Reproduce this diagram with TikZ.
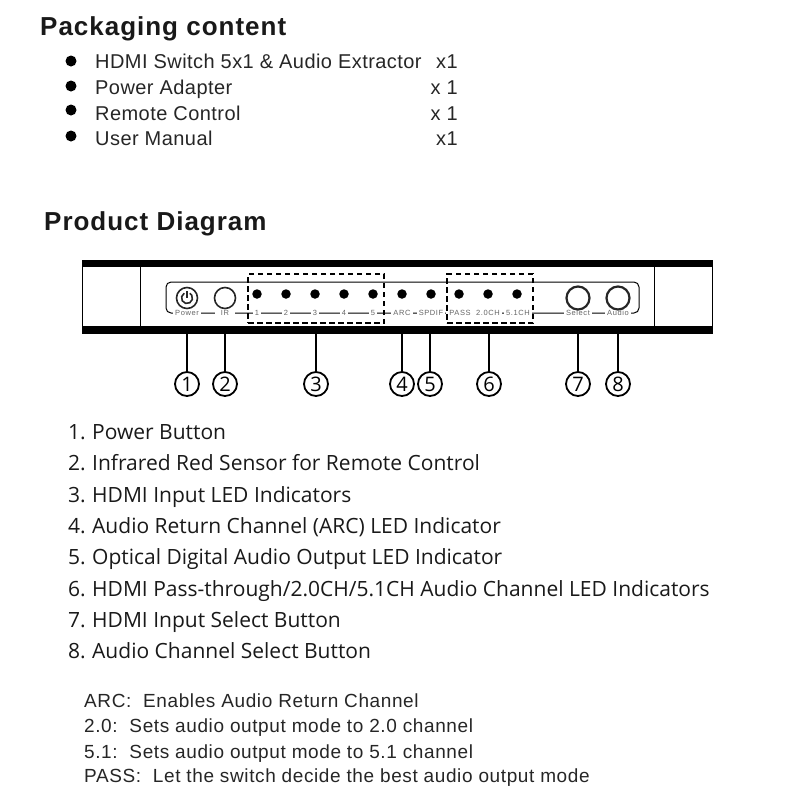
\documentclass[tikz,border=0pt]{standalone}
\usepackage{fontspec}
\setmainfont{Liberation Sans}
\newfontfamily\listfont{Open Sans}
\newfontfamily\headfont[LetterSpace=3.8,BoldFont={Liberation Sans Bold}]{Liberation Sans}
\newfontfamily\itemfont[LetterSpace=2.2]{Liberation Sans}
\newfontfamily\notefont[LetterSpace=3.2]{Liberation Sans}
\newfontfamily\labfont[LetterSpace=8]{Liberation Sans}
\usetikzlibrary{positioning,calc}

\begin{document}
\begin{tikzpicture}[x=1pt, y=-1pt,
  head/.style={anchor=base west, inner sep=0pt, font=\headfont\fontsize{26}{26}\selectfont\bfseries, text=black!90},
  item/.style={anchor=base west, inner sep=0pt, font=\itemfont\fontsize{20}{20}\selectfont, text=black!85},
  qty/.style={anchor=base east, inner sep=0pt, font=\itemfont\fontsize{20}{20}\selectfont, text=black!85},
  dotmark/.style={circle, fill=black, inner sep=0pt, minimum size=11pt},
  num/.style={anchor=base west, inner sep=0pt, font=\listfont\fontsize{21}{21}\selectfont, text=black!90},
  note/.style={anchor=base west, inner sep=0pt, font=\notefont\fontsize{19}{19}\selectfont, text=black!85},
  bar/.style={fill=black, inner sep=0pt, minimum height=7.5pt, minimum width=631pt},
  led/.style={circle, fill=black, inner sep=0pt, minimum size=9.5pt},
  btn/.style={circle, draw=black!85, line width=1.6pt, inner sep=0pt, minimum size=21pt},
  bigbtn/.style={circle, draw=black!85, line width=2.2pt, inner sep=0pt, minimum size=23pt},
  lab/.style={fill=white, inner sep=2pt, font=\labfont\fontsize{7.5}{7.5}\selectfont, text=black!60},
  group/.style={draw=black, line width=1.8pt, dash pattern=on 5.5pt off 3.5pt, inner sep=0pt},
  callout/.style={circle, draw=black, line width=1.8pt, fill=white, inner sep=0pt, minimum size=24pt, font=\listfont\fontsize{20}{20}\selectfont},
  leader/.style={line width=1.8pt}]
\useasboundingbox (0,0) rectangle (808,807);
% packaging list
\node[head] (packing) at (40,35) {Packaging content};
\node[dotmark] (d1) at (71,61) {};
\node[dotmark] (d2) at (71,86) {};
\node[dotmark] (d3) at (71,110) {};
\node[dotmark] (d4) at (71,136) {};
\node[item] (p1) at (95,68) {HDMI Switch 5x1 \& Audio Extractor};
\node[item] (p2) at (95,94) {Power Adapter};
\node[item] (p3) at (95,120) {Remote Control};
\node[item] (p4) at (95,145) {User Manual};
\node[qty] (q1) at (458,68) {x1};
\node[qty] (q2) at (458,94) {x 1};
\node[qty] (q3) at (458,120) {x 1};
\node[qty] (q4) at (458,145) {x1};
% front panel
\node[head] (product) at (44,230) {Product Diagram};
\node[draw=black, line width=1.5pt, inner sep=0pt, minimum width=630pt, minimum height=73pt] (panel) at (397.5,297) {};
\node[bar] (topbar) at (397.5,263.5) {};
\node[bar] (botbar) at (397.5,330) {};
\draw[line width=1pt] (140,263) -- (140,330);
\draw[line width=1pt] (654,263) -- (654,330);
\node[draw=black, line width=1pt, rounded corners=5pt, inner sep=0pt, minimum width=473pt, minimum height=31pt] (strip) at (402.5,297.5) {};
\node[lab] at (187,313) {Power};
\node[lab, minimum width=20pt] at (225,313) {IR};
\node[lab] at (257,313) {1};
\node[lab] at (286,313) {2};
\node[lab] at (315,313) {3};
\node[lab] at (344,313) {4};
\node[lab] at (373,313) {5};
\node[lab, minimum width=22pt] at (402,313) {ARC};
\node[lab] at (431,313) {SPDIF};
\node[lab, minimum width=28pt] at (460,313) {PASS};
\node[lab, minimum width=26pt] at (488,313) {2.0CH};
\node[lab] at (518,313) {5.1CH};
\node[lab] at (578,313) {Select};
\node[lab] at (618,313) {Audio};
\node[btn] (power) at (187,298) {};
\draw[line width=1.6pt, black!85] ($(power)+(-2.75,-4.76)$) arc[start angle=120, end angle=420, radius=5.5pt];
\draw[line width=1.6pt, black!85] ($(power)+(0,-7)$) -- (power.center);
\node[btn] (ir) at (225,298) {};
\node[led] (l1) at (257,294) {};
\node[led] (l2) at (286,294) {};
\node[led] (l3) at (315,294) {};
\node[led] (l4) at (344,294) {};
\node[led] (l5) at (373,294) {};
\node[led] (arc) at (402,294) {};
\node[led] (spdif) at (431,294) {};
\node[led] (pass) at (459,294) {};
\node[led] (ch2) at (488,294) {};
\node[led] (ch5) at (517,294) {};
\node[bigbtn] (select) at (578,298) {};
\node[bigbtn] (audio) at (618,298) {};
\node[group, minimum width=136pt, minimum height=49pt] (inputs) at (316,298.5) {};
\node[group, minimum width=86pt, minimum height=49pt] (modes) at (490,298.5) {};
% callouts
\node[callout] (c1) at (187,384) {1};
\node[callout] (c2) at (225,384) {2};
\node[callout] (c3) at (316,384) {3};
\node[callout] (c4) at (402,384) {4};
\node[callout] (c5) at (430,384) {5};
\node[callout] (c6) at (489,384) {6};
\node[callout] (c7) at (578,384) {7};
\node[callout] (c8) at (618,384) {8};
\draw[leader] (c1) -- (c1|-botbar.south);
\draw[leader] (c2) -- (c2|-botbar.south);
\draw[leader] (c3) -- (c3|-botbar.south);
\draw[leader] (c4) -- (c4|-botbar.south);
\draw[leader] (c5) -- (c5|-botbar.south);
\draw[leader] (c6) -- (c6|-botbar.south);
\draw[leader] (c7) -- (c7|-botbar.south);
\draw[leader] (c8) -- (c8|-botbar.south);
% numbered list
\node[num] (n1) at (68,439) {1.};
\node[num] (n2) at (68,470) {2.};
\node[num] (n3) at (68,502) {3.};
\node[num] (n4) at (68,533) {4.};
\node[num] (n5) at (68,564) {5.};
\node[num] (n6) at (68,596) {6.};
\node[num] (n7) at (68,627) {7.};
\node[num] (n8) at (68,658) {8.};
\node[num] (t1) at (92,439) {Power Button};
\node[num] (t2) at (92,470) {Infrared Red Sensor for Remote Control};
\node[num] (t3) at (92,502) {HDMI Input LED Indicators};
\node[num] (t4) at (92,533) {Audio Return Channel (ARC) LED Indicator};
\node[num] (t5) at (92,564) {Optical Digital Audio Output LED Indicator};
\node[num] (t6) at (92,596) {HDMI Pass-through/2.0CH/5.1CH Audio Channel LED Indicators};
\node[num] (t7) at (92,627) {HDMI Input Select Button};
\node[num] (t8) at (92,658) {Audio Channel Select Button};
% notes
\node[note] (a1) at (84,707) {ARC:\ \ Enables Audio Return Channel};
\node[note] (a2) at (84,732) {2.0:\ \ Sets audio output mode to 2.0 channel};
\node[note] (a3) at (84,758) {5.1:\ \ Sets audio output mode to 5.1 channel};
\node[note] (a4) at (84,782) {PASS:\ \ Let the switch decide the best audio output mode};
\end{tikzpicture}
\end{document}
